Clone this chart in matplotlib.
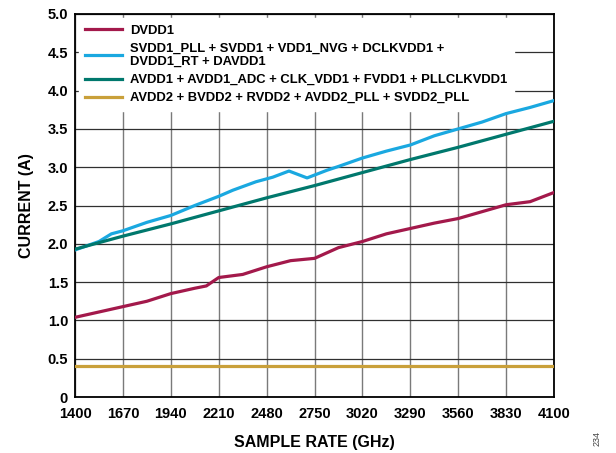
import numpy as np
import matplotlib.pyplot as plt

plt.rcParams['font.family'] = ['Liberation Sans', 'DejaVu Sans']
plt.rcParams['font.weight'] = 'bold'

# sample rates
rate_dvdd1 = [1400, 1535, 1670, 1805, 1940, 2075, 2140, 2210, 2345, 2480, 2615, 2750,
              2885, 3020, 3155, 3290, 3425, 3560, 3695, 3830, 3965, 4100]
dvdd1 = [1.04, 1.11, 1.18, 1.25, 1.35, 1.42, 1.45, 1.56, 1.60, 1.70, 1.78, 1.81,
         1.95, 2.03, 2.13, 2.20, 2.27, 2.33, 2.42, 2.51, 2.55, 2.67]

rate_svdd1 = [1400, 1535, 1605, 1670, 1805, 1940, 2075, 2210, 2290, 2420, 2515, 2606,
              2708, 2820, 2885, 3020, 3155, 3290, 3425, 3560, 3695, 3830, 3965, 4100]
svdd1 = [1.92, 2.03, 2.13, 2.17, 2.28, 2.37, 2.50, 2.62, 2.70, 2.81, 2.87, 2.95,
         2.86, 2.96, 3.01, 3.12, 3.21, 3.29, 3.41, 3.50, 3.59, 3.70, 3.78, 3.87]

rate_avdd1 = [1400, 1670, 1940, 2210, 2480, 2750, 3020, 3290, 3560, 3830, 4100]
avdd1 = [1.93, 2.10, 2.26, 2.43, 2.60, 2.76, 2.93, 3.10, 3.26, 3.43, 3.60]

rate_avdd2 = [1400, 1670, 1940, 2210, 2480, 2750, 3020, 3290, 3560, 3830, 4100]
avdd2 = [0.41, 0.41, 0.41, 0.41, 0.41, 0.41, 0.41, 0.41, 0.41, 0.41, 0.41]

labels = ["DVDD1",
          "SVDD1_PLL + SVDD1 + VDD1_NVG + DCLKVDD1 +\nDVDD1_RT + DAVDD1",
          "AVDD1 + AVDD1_ADC + CLK_VDD1 + FVDD1 + PLLCLKVDD1",
          "AVDD2 + BVDD2 + RVDD2 + AVDD2_PLL + SVDD2_PLL"]
colors = ["#A3194B", "#1AA8E0", "#00786D", "#C9A03A"]

x_ticks = [1400, 1670, 1940, 2210, 2480, 2750, 3020, 3290, 3560, 3830, 4100]
y_ticks = [0, 0.5, 1.0, 1.5, 2.0, 2.5, 3.0, 3.5, 4.0, 4.5, 5.0]
y_tick_labels = ["0", "0.5", "1.0", "1.5", "2.0", "2.5", "3.0", "3.5", "4.0", "4.5", "5.0"]

fig = plt.figure(figsize=(6.16, 4.53), dpi=100)
ax = fig.add_axes([0.1218, 0.1236, 0.7776, 0.8455])

series = [(rate_dvdd1, dvdd1), (rate_svdd1, svdd1), (rate_avdd1, avdd1), (rate_avdd2, avdd2)]
for (x, y), lab, c in zip(series, labels, colors):
    ax.plot(x, y, color=c, lw=2.3, label=lab, solid_joinstyle='round', zorder=3)

ax.set_xlim(1400, 4100)
ax.set_ylim(0, 5)
ax.set_xticks(x_ticks)
ax.set_yticks(y_ticks)
ax.set_yticklabels(y_tick_labels)
ax.tick_params(length=0, labelsize=10.5)
ax.tick_params(axis='x', pad=7)
ax.tick_params(axis='y', pad=5)
for t in ax.get_xticklabels() + ax.get_yticklabels():
    t.set_fontweight('bold')

ax.set_axisbelow(True)
ax.xaxis.grid(True, color='#7a7a7a', lw=1.0)
ax.yaxis.grid(True, color='#303030', lw=0.9)
for s in ax.spines.values():
    s.set_linewidth(1.3)
    s.set_color('black')

ax.set_xlabel("SAMPLE RATE (GHz)", fontsize=11.5, fontweight='bold', labelpad=10)
ax.set_ylabel("CURRENT (A)", fontsize=11.5, fontweight='bold', labelpad=10)

leg = ax.legend(loc='upper left', fontsize=9.4, frameon=True, fancybox=False,
                handlelength=2.8, handletextpad=0.6, labelspacing=0.45,
                borderaxespad=0.3, borderpad=0.5)
leg.set_zorder(2)
leg.get_frame().set_edgecolor('white')
leg.get_frame().set_facecolor('white')
leg.get_frame().set_alpha(1.0)
for t in leg.get_texts():
    t.set_fontweight('bold')

fig.text(0.969, 0.015, "234", rotation=90, fontsize=6.5, color='#444444',
         fontweight='normal', ha='center', va='bottom')

fig.savefig("out.png", dpi=100)
